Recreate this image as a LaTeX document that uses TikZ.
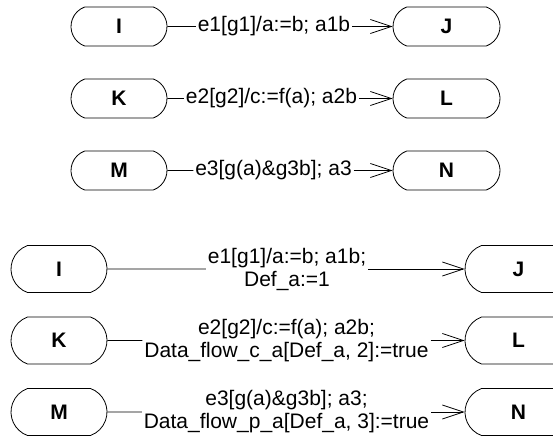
\documentclass[tikz,border=0pt]{standalone}
\usepackage{fontspec}
\setmainfont{Liberation Sans}
\usetikzlibrary{arrows.meta,shapes.misc}
\begin{document}
\begin{tikzpicture}[x=1pt,y=-1pt,
  state/.style={draw=black,line width=0.8pt,rounded rectangle,
    rounded rectangle arc length=140,inner sep=0pt,
    font=\fontsize{21}{23}\selectfont\bfseries},
  narrow/.style={state,minimum width=96pt},
  wide/.style={state,minimum width=107pt},
  short/.style={minimum height=39pt},
  tall/.style={minimum height=47pt},
  trlabel/.style={inner sep=2pt,outer sep=0pt,align=center,
    font=\fontsize{21}{23}\selectfont},
  link/.style={draw=black,line width=0.8pt},
  tip/.style={link,-{Straight Barb[length=21pt,width=14pt,line width=0.8pt]}}]
\useasboundingbox (0,0) rectangle (553,438);

% upper group: plain transitions
\node[narrow,short] (I1) at (119,26.5) {I};
\node[wide,short]   (J1) at (446.5,26.5) {J};
\node[narrow,short] (K1) at (119,98.5) {K};
\node[wide,short]   (L1) at (446.5,98.5) {L};
\node[narrow,short] (M1) at (119,170.5) {M};
\node[wide,short]   (N1) at (446.5,170.5) {N};

\node[trlabel] (t1) at (274,26.5) {e1[g1]/a:=b; a1b};
\node[trlabel] (t2) at (271.5,98.5) {e2[g2]/c:=f(a); a2b};
\node[trlabel] (t3) at (273.5,170.5) {e3[g(a)\&g3b]; a3};

\draw[link] (I1) -- (t1); \draw[tip] (t1) -- (J1);
\draw[link] (K1) -- (t2); \draw[tip] (t2) -- (L1);
\draw[link] (M1) -- (t3); \draw[tip] (t3) -- (N1);

% lower group: transitions with data-flow annotations
\node[narrow,tall] (I2) at (59,269) {I};
\node[wide,tall]   (J2) at (518.5,269) {J};
\node[narrow,tall] (K2) at (59,340.5) {K};
\node[wide,tall]   (L2) at (518.5,340.5) {L};
\node[narrow,tall] (M2) at (59,412) {M};
\node[wide,tall]   (N2) at (518.5,412) {N};

\node[trlabel] (u1) at (287,269) {e1[g1]/a:=b; a1b;\\Def\_a:=1};
\node[trlabel] (u2) at (286.5,340.5) {e2[g2]/c:=f(a); a2b;\\Data\_flow\_c\_a[Def\_a, 2]:=true};
\node[trlabel] (u3) at (286.5,412) {e3[g(a)\&g3b]; a3;\\Data\_flow\_p\_a[Def\_a, 3]:=true};

\draw[link] (I2) -- (u1); \draw[tip] (u1) -- (J2);
\draw[link] (K2) -- (u2); \draw[tip] (u2) -- (L2);
\draw[link] (M2) -- (u3); \draw[tip] (u3) -- (N2);
\end{tikzpicture}
\end{document}
